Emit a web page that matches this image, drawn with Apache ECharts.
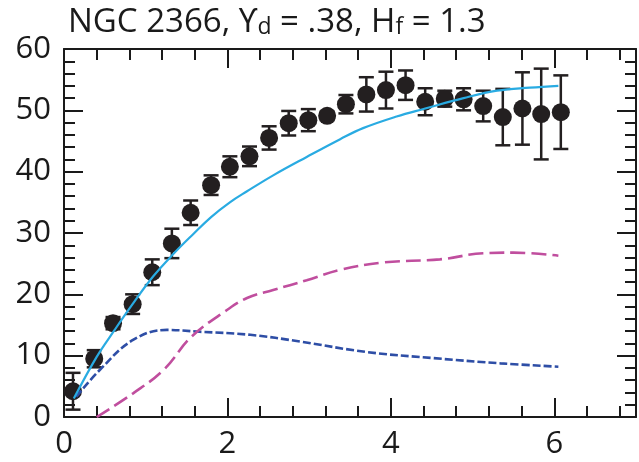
<!DOCTYPE html>
<html>
<head>
<meta charset="utf-8">
<script src="https://cdn.jsdelivr.net/npm/echarts@6/dist/echarts.min.js"></script>
<style>
  html, body { margin: 0; padding: 0; background: #fff; }
  #chart { width: 639px; height: 462px; }
</style>
</head>
<body>
<div id="chart"></div>
<script>
// Observed rotation velocities (radius, velocity, error)
const obsR = [0.11, 0.37, 0.60, 0.84, 1.08, 1.32, 1.55, 1.80, 2.03, 2.27, 2.51, 2.75, 2.99, 3.22,
              3.45, 3.70, 3.94, 4.18, 4.42, 4.66, 4.89, 5.13, 5.37, 5.61, 5.84, 6.08];
const obsV = [4.2, 9.5, 15.3, 18.4, 23.6, 28.3, 33.3, 37.8, 40.8, 42.5, 45.5, 47.9, 48.4, 49.1,
              51.0, 52.6, 53.3, 54.1, 51.4, 51.9, 51.8, 50.7, 48.9, 50.3, 49.4, 49.7];
const obsErr = [3.0, 1.4, 1.0, 1.6, 2.1, 2.4, 2.0, 1.6, 1.7, 1.6, 1.9, 2.0, 1.8, 0.7,
                1.5, 2.8, 3.0, 2.4, 2.2, 1.3, 1.8, 2.5, 4.6, 5.9, 7.4, 6.0];

// Total model curve
const totalR = [0.12, 0.40, 0.62, 0.85, 1.09, 1.34, 1.58, 1.80, 2.03, 2.24, 2.56, 2.97, 3.38, 3.66,
                4.07, 4.42, 4.89, 5.30, 5.70, 6.05];
const totalV = [3.0, 9.8, 14.2, 18.6, 22.9, 26.6, 29.8, 32.6, 35.0, 36.8, 39.4, 42.4, 45.3, 47.1,
                49.0, 50.3, 52.0, 53.2, 53.7, 54.0];

// Stellar disk contribution
const diskR = [0.15, 0.44, 0.85, 1.26, 1.66, 2.28, 2.89, 3.70, 4.52, 5.34, 6.05];
const diskV = [3.3, 7.7, 12.6, 14.2, 13.9, 13.4, 12.3, 10.6, 9.6, 8.75, 8.2];

// Halo contribution
const haloR = [0.40, 0.85, 1.22, 1.56, 1.99, 2.24, 2.56, 2.97, 3.38, 3.91, 4.60, 5.13, 5.50, 6.05];
const haloV = [0.0, 3.9, 7.7, 13.1, 17.4, 19.4, 20.7, 22.3, 24.0, 25.2, 25.7, 26.7, 26.8, 26.3];

const xTicks = [0, 2, 4, 6];
const yTicks = [0, 10, 20, 30, 40, 50, 60];

const pairs = (xs, ys) => xs.map((x, i) => [x, ys[i]]);
const obsData = obsR.map((r, i) => [r, obsV[i], obsErr[i]]);

const FONT = 'Open Sans';
const ink = '#1a1a1a';

const chart = echarts.init(document.getElementById('chart'), null, { renderer: 'canvas' });

const tickStyle = { color: ink, width: 2 };
const baseX = {
  type: 'value', min: 0, max: 7, interval: 2,
  axisLine: { show: true, onZero: false, lineStyle: { color: ink, width: 2 } },
  axisTick: { show: true, inside: true, length: 19, lineStyle: tickStyle },
  minorTick: { show: true, splitNumber: 5, length: 11, lineStyle: tickStyle },
  splitLine: { show: false }
};
const baseY = {
  type: 'value', min: 0, max: 60, interval: 10,
  axisLine: { show: true, onZero: false, lineStyle: { color: ink, width: 2 } },
  axisTick: { show: true, inside: true, length: 19, lineStyle: tickStyle },
  minorTick: { show: true, splitNumber: 5, length: 11, lineStyle: tickStyle },
  splitLine: { show: false }
};

chart.setOption({
  animation: false,
  backgroundColor: '#fff',
  title: {
    text: 'NGC 2366, \u03D2{sub|d} = .38, H{sub|f} = 1.3',
    left: 63, top: 1,
    textStyle: {
      fontFamily: FONT, fontSize: 33, fontWeight: 'normal', color: ink,
      rich: { sub: { fontFamily: FONT, fontSize: 23, color: ink, verticalAlign: 'bottom', padding: [9, 0, 0, 0] } }
    }
  },
  grid: { left: 64, right: 3, top: 49, bottom: 45 },
  xAxis: [
    Object.assign({}, baseX, {
      position: 'bottom',
      axisLabel: {
        show: true, margin: 12, color: ink, fontFamily: FONT, fontSize: 31,
        formatter: v => xTicks.includes(v) ? String(v) : ''
      }
    }),
    Object.assign({}, baseX, { position: 'top', axisLabel: { show: false } })
  ],
  yAxis: [
    Object.assign({}, baseY, {
      position: 'left',
      axisLabel: {
        show: true, margin: 13, color: ink, fontFamily: FONT, fontSize: 31,
        formatter: v => yTicks.includes(v) ? String(v) : ''
      }
    }),
    Object.assign({}, baseY, { position: 'right', axisLabel: { show: false } })
  ],
  series: [
    {
      type: 'custom',
      name: 'errors',
      data: obsData,
      z: 2,
      renderItem: (params, api) => {
        const x = api.value(0), y = api.value(1), e = api.value(2);
        const top = api.coord([x, y + e]);
        const bot = api.coord([x, y - e]);
        const cap = 7.5;
        const st = { stroke: '#231f20', lineWidth: 2.5 };
        return {
          type: 'group',
          children: [
            { type: 'line', shape: { x1: top[0], y1: top[1], x2: bot[0], y2: bot[1] }, style: st },
            { type: 'line', shape: { x1: top[0] - cap, y1: top[1], x2: top[0] + cap, y2: top[1] }, style: st },
            { type: 'line', shape: { x1: bot[0] - cap, y1: bot[1], x2: bot[0] + cap, y2: bot[1] }, style: st }
          ]
        };
      }
    },
    {
      type: 'scatter',
      name: 'observed',
      data: obsData.map(d => [d[0], d[1]]),
      symbol: 'circle',
      symbolSize: 18,
      itemStyle: { color: '#231f20', opacity: 1 },
      z: 3
    },
    {
      type: 'line',
      name: 'disk',
      data: pairs(diskR, diskV),
      smooth: 0.4,
      showSymbol: false,
      lineStyle: { color: '#2e4ea6', width: 2.6, type: [8, 3] },
      z: 4
    },
    {
      type: 'line',
      name: 'halo',
      data: pairs(haloR, haloV),
      smooth: 0.4,
      showSymbol: false,
      lineStyle: { color: '#c04e9e', width: 2.6, type: [15, 6] },
      z: 4
    },
    {
      type: 'line',
      name: 'total',
      data: pairs(totalR, totalV),
      smooth: 0.4,
      showSymbol: false,
      lineStyle: { color: '#29abe2', width: 2.2 },
      z: 5
    }
  ]
});
</script>
</body>
</html>
